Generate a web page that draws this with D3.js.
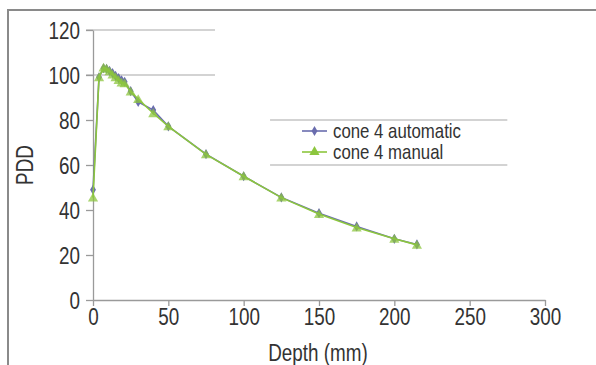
<!DOCTYPE html>
<html><head><meta charset="utf-8">
<script src="https://cdn.jsdelivr.net/npm/d3@7"></script>
<style>body{margin:0;background:#fff}svg{display:block}</style>
</head><body>
<svg id="c" width="596" height="365"></svg>
<script>
const depths = [0, 4, 7, 9, 11, 13, 15, 17, 19, 21, 25, 30, 40, 50, 75, 100, 125, 150, 175, 200, 215];
const automatic = [49, 99, 103, 102.7, 101.8, 100.8, 99.6, 98.6, 97.6, 97, 92.8, 88, 84.4, 77.2, 64.8, 55, 45.6, 38.6, 32.7, 27.2, 24.7];
const manual = [45.5, 99, 103.3, 102.8, 101.6, 100.2, 99, 97.8, 96.6, 96.3, 92.6, 89.3, 83, 77.2, 64.7, 55, 45.5, 38.2, 32.2, 27.2, 24.5];
const xTicks = [0, 50, 100, 150, 200, 250, 300];
const yTicks = [0, 20, 40, 60, 80, 100, 120];
const seriesNames = ["cone 4 automatic", "cone 4 manual"];
// visible gridline fragments [value, fromDepth, toDepth]
const gridFrags = [[120, -4.6, 81], [100, -4.6, 81], [80, 117.5, 275], [60, 117.5, 275]];

const svg = d3.select("#c");
const font = "'Liberation Sans',Arial,Helvetica,sans-serif";
const SX = 0.82;
const x = d3.scaleLinear().domain([0, 300]).range([93, 545]);
const y = d3.scaleLinear().domain([0, 120]).range([300, 30]);
const blue = "#6a6dae", green = "#8cc63e";

function narrow(sel, extra) {
  sel.each(function () {
    const t = d3.select(this);
    const xx = +t.attr("x") || 0, yy = +t.attr("y") || 0;
    t.attr("x", 0).attr("y", 0)
      .attr("transform", `translate(${xx},${yy}) ${extra || ""} scale(${SX},1)`);
  });
}

// frame
svg.append("path").attr("d", "M8,365 L8,10 L596,10").attr("fill", "none")
  .attr("stroke", "#8a8a8a").attr("stroke-width", 2);

// gridline fragments
svg.selectAll(".g").data(gridFrags).enter().append("line")
  .attr("x1", d => x(d[1])).attr("x2", d => x(d[2]))
  .attr("y1", d => y(d[0])).attr("y2", d => y(d[0]))
  .attr("stroke", "#a8a8a8").attr("stroke-width", 1.2);

// axes
const xa = svg.append("g").attr("transform", "translate(0,300)")
  .call(d3.axisBottom(x).tickValues(xTicks).tickSize(6).tickPadding(3).tickSizeOuter(0));
const ya = svg.append("g").attr("transform", "translate(93,0)")
  .call(d3.axisLeft(y).tickValues(yTicks).tickSize(7).tickPadding(6).tickSizeOuter(0));
[xa, ya].forEach(a => {
  a.select(".domain").attr("stroke", "#9a9a9a").attr("stroke-width", 1.3);
  a.selectAll(".tick line").attr("stroke", "#9a9a9a").attr("stroke-width", 1.3);
  a.selectAll("text").attr("font-family", font).attr("font-size", 23).attr("fill", "#333");
});
ya.selectAll("text").attr("dy", "0.36em");
narrow(xa.selectAll("text"));
narrow(ya.selectAll("text"));

// axis titles
svg.append("text").attr("x", 318).attr("y", 361).attr("text-anchor", "middle")
  .attr("font-family", font).attr("font-size", 23).attr("fill", "#333").text("Depth (mm)")
  .call(narrow);
svg.append("text").attr("x", 33).attr("y", 165).attr("text-anchor", "middle")
  .attr("font-family", font).attr("font-size", 23).attr("fill", "#333").text("PDD")
  .call(s => narrow(s, "rotate(-90)"));

const line = d3.line().x(d => x(d[0])).y(d => y(d[1]));
const autoPts = depths.map((d, i) => [d, automatic[i]]);
const manPts = depths.map((d, i) => [d, manual[i]]);
const diamond = d3.symbol().type(d3.symbolDiamond).size(30);
const tri = d3.symbol().type(d3.symbolTriangle).size(45);

svg.append("path").datum(autoPts).attr("d", line).attr("fill", "none").attr("stroke", blue).attr("stroke-width", 1.6);
svg.selectAll(".da").data(autoPts).enter().append("path").attr("d", diamond)
  .attr("transform", d => `translate(${x(d[0])},${y(d[1])})`).attr("fill", blue);
svg.append("path").datum(manPts).attr("d", line).attr("fill", "none").attr("stroke", green).attr("stroke-width", 1.6);
svg.selectAll(".tm").data(manPts).enter().append("path").attr("d", tri)
  .attr("transform", d => `translate(${x(d[0])},${y(d[1]) + 1})`).attr("fill", green).attr("fill-opacity", 0.75);

// legend
const lg = svg.append("g");
[[blue, diamond, 131], [green, tri, 152]].forEach((s, i) => {
  lg.append("line").attr("x1", 302).attr("x2", 327).attr("y1", s[2]).attr("y2", s[2]).attr("stroke", s[0]).attr("stroke-width", 1.6);
  lg.append("path").attr("d", s[1]).attr("transform", `translate(314.5,${s[2]})`).attr("fill", s[0]);
  lg.append("text").attr("x", 333).attr("y", s[2] + 7).attr("font-family", font).attr("font-size", 20.5)
    .attr("fill", "#333").text(seriesNames[i]).call(narrow);
});
</script>
</body></html>
